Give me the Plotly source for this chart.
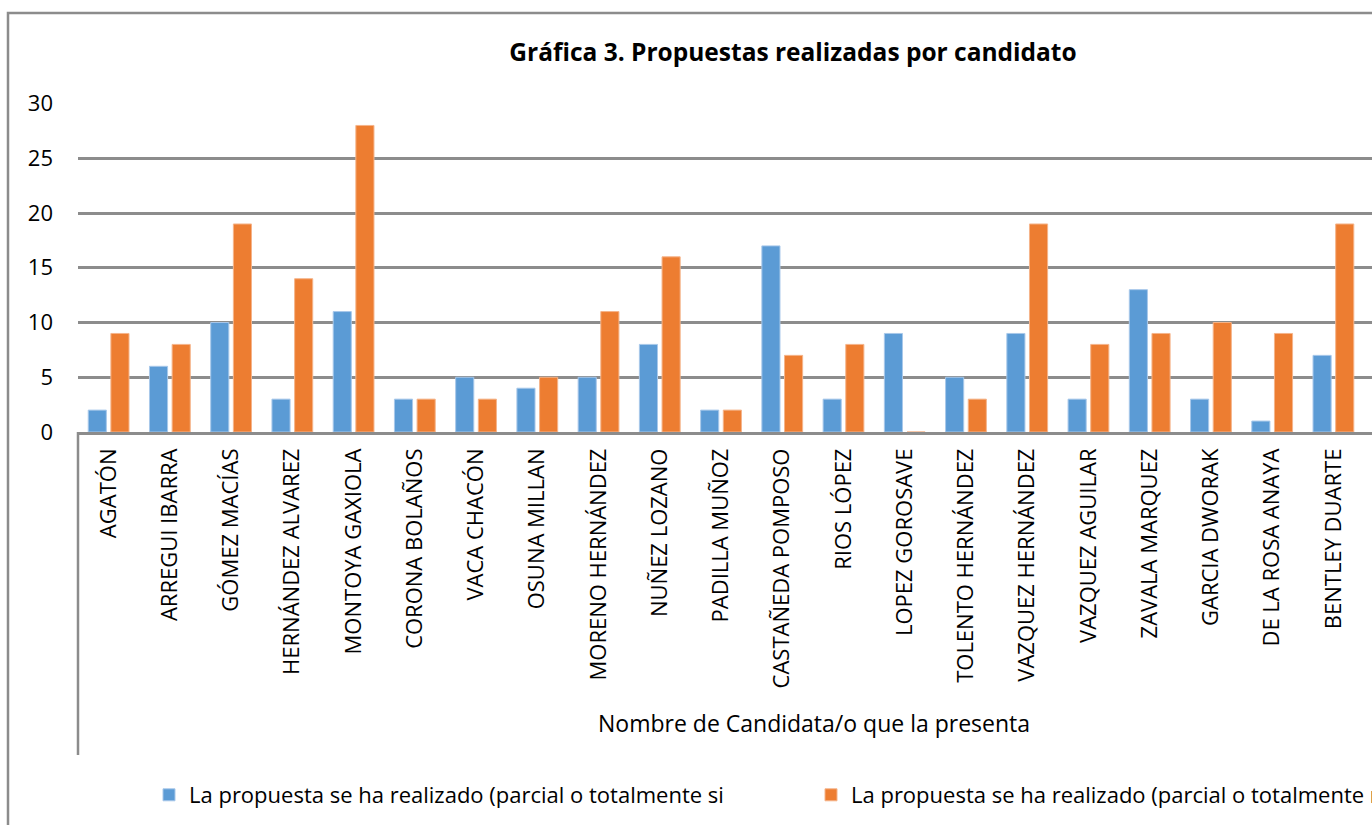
import plotly.graph_objects as go

candidatos = [
    "AGATÓN", "ARREGUI IBARRA", "GÓMEZ MACÍAS", "HERNÁNDEZ ALVAREZ",
    "MONTOYA GAXIOLA", "CORONA BOLAÑOS", "VACA CHACÓN", "OSUNA MILLAN",
    "MORENO HERNÁNDEZ", "NUÑEZ LOZANO", "PADILLA MUÑOZ", "CASTAÑEDA POMPOSO",
    "RIOS LÓPEZ", "LOPEZ GOROSAVE", "TOLENTO HERNÁNDEZ", "VAZQUEZ HERNÁNDEZ",
    "VAZQUEZ AGUILAR", "ZAVALA MARQUEZ", "GARCIA DWORAK", "DE LA ROSA ANAYA",
    "BENTLEY DUARTE",
]
realizado_si = [2, 6, 10, 3, 11, 3, 5, 4, 5, 8, 2, 17, 3, 9, 5, 9, 3, 13, 3, 1, 7]
realizado_no = [9, 8, 19, 14, 28, 3, 3, 5, 11, 16, 2, 7, 8, 0, 3, 19, 8, 9, 10, 9, 19]

serie_si = "La propuesta se ha realizado (parcial o totalmente si"
serie_no = "La propuesta se ha realizado (parcial o totalmente no"

AZUL = "#5B9BD5"
NARANJA = "#ED7D31"
GRIS = "#8C8C8C"
FUENTE = "Open Sans"

W, H = 1372, 825
L, R, T, B = 78, 0, 103, 393
PW, PH = W - L - R, H - T - B


def px_x(x):
    return (x - L) / PW


def px_y(y):
    return (H - B - y) / PH


fig = go.Figure()
fig.add_trace(go.Bar(x=candidatos, y=realizado_si, name=serie_si, legend="legend",
                     marker=dict(color=AZUL, line=dict(color="#A8C8EA", width=1))))
fig.add_trace(go.Bar(x=candidatos, y=realizado_no, name=serie_no, legend="legend2",
                     marker=dict(color=NARANJA, line=dict(color="#F5B48A", width=1))))

# marco exterior y línea vertical bajo el eje de categorías
fig.add_shape(type="rect", xref="paper", yref="paper",
              x0=px_x(8), x1=px_x(1500), y0=px_y(900), y1=px_y(13),
              line=dict(color=GRIS, width=2.5), layer="below")
fig.add_shape(type="line", xref="paper", yref="paper",
              x0=0, x1=0, y0=px_y(432), y1=px_y(755),
              line=dict(color=GRIS, width=2.5))

fig.add_annotation(text="Nombre de Candidata/o que la presenta", xref="paper", yref="paper",
                   x=px_x(814), y=px_y(741), showarrow=False,
                   font=dict(size=23, color="black", family=FUENTE))

# leyendas en coordenadas del contenedor para que no empujen los márgenes
leyenda = dict(orientation="h", xref="container", yref="container",
               y=1 - 795 / H, xanchor="left", yanchor="middle",
               bgcolor="rgba(0,0,0,0)", font=dict(size=22, family=FUENTE, color="black"))

fig.update_layout(
    width=W, height=H,
    margin=dict(l=L, r=R, t=T, b=B),
    paper_bgcolor="white", plot_bgcolor="white",
    font=dict(family=FUENTE, color="black"),
    title=dict(text="<b>Gráfica 3. Propuestas realizadas por candidato</b>",
               x=px_x(793), xref="paper", xanchor="center",
               y=1 - 52 / H, yref="container", yanchor="middle",
               font=dict(size=24.5, color="black", family=FUENTE)),
    barmode="group", bargap=0.26, bargroupgap=0.2,
    xaxis=dict(range=[-0.5, 20.63], tickangle=-90, showgrid=False,
               showline=True, linecolor=GRIS, linewidth=2.5, automargin=False,
               tickfont=dict(size=22, family=FUENTE), ticklabelstandoff=5),
    yaxis=dict(range=[0, 30.05], dtick=5, showgrid=True, gridcolor=GRIS, gridwidth=2.5,
               zeroline=False, showline=False, ticklabelstandoff=24, automargin=False,
               tickfont=dict(size=22, family=FUENTE)),
    showlegend=True,
    legend=dict(leyenda, x=149 / W),
    legend2=dict(leyenda, x=811 / W),
)

fig.write_html("out.html", config={"displayModeBar": False},
               post_script="document.body.style.margin='0';document.documentElement.style.overflow='hidden';")
